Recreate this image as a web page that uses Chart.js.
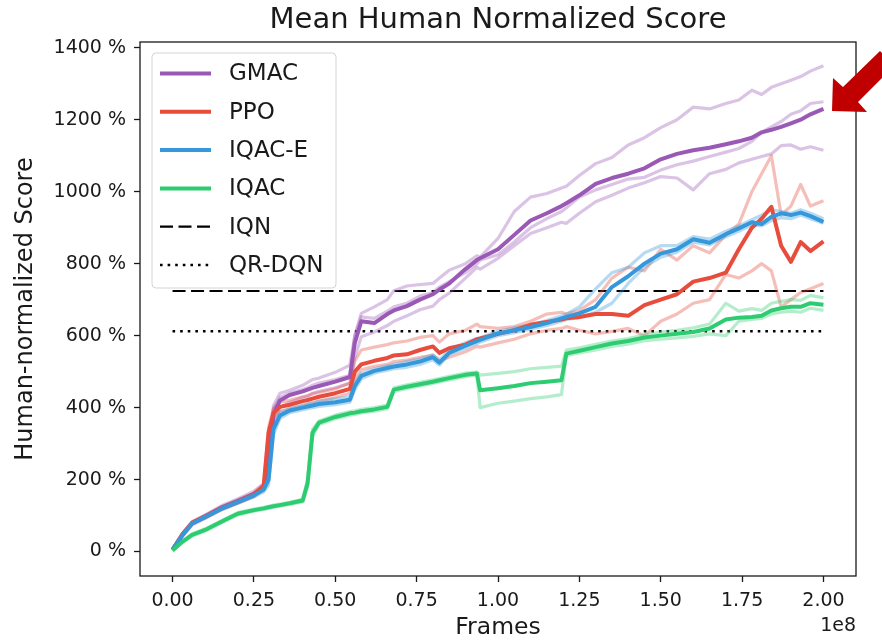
<!DOCTYPE html>
<html>
<head>
<meta charset="utf-8">
<script src="https://cdn.jsdelivr.net/npm/chart.js@4.4.0/dist/chart.umd.min.js"></script>
<style>
  html, body { margin:0; padding:0; background:#fff; }
  canvas { display:block; }
</style>
</head>
<body>
<canvas id="chart" width="882" height="642"></canvas>
<script>
// === DATA (frames in units of 1e8, scores in %) ===
const frames = [0,0.03,0.06,0.1,0.15,0.2,0.25,0.28,0.295,0.31, 0.33,0.36,0.4,0.415,0.43,0.45,0.5,0.545,0.56,0.58,
  0.62,0.66,0.68,0.72,0.76,0.8,0.82,0.85,0.9,0.935, 0.945,1.0,1.05,1.1,1.15,1.195,1.21,1.25,1.3,1.35,
  1.4,1.45,1.5,1.55,1.6,1.65,1.7,1.74,1.78,1.81, 1.84,1.87,1.9,1.93,1.96,2.0];

const gmacMean = [5,45,78,97,122,140,160,180,230,380, 420,435,445,450,455,460,472,485,580,640,
  635,660,670,682,700,715,728,745,785,810, 815,840,880,920,940,960,968,990,1022,1038,
  1050,1065,1090,1105,1115,1122,1132,1140,1150,1165, 1172,1180,1190,1200,1215,1230];
const gmacRunA = [5,48,82,102,127,146,168,188,260,405, 440,448,462,470,478,482,498,518,600,662,
  680,700,725,738,742,745,760,782,800,822, 818,870,945,985,995,1010,1015,1045,1078,1095,
  1130,1150,1178,1200,1235,1230,1245,1255,1282,1270, 1290,1300,1310,1320,1335,1350];
const gmacRunB = [5,42,74,92,117,135,153,172,210,360, 400,415,428,432,440,445,455,468,540,597,
  610,628,640,655,672,682,700,718,760,790, 785,815,850,884,900,915,912,940,972,990,
  1010,1025,1042,1038,1005,1050,1062,1080,1090,1098, 1105,1128,1130,1118,1125,1115];
const gmacRunC = [5,46,80,99,124,143,162,182,245,395, 428,440,450,455,462,468,478,490,600,652,
  648,668,680,690,710,720,735,750,775,800, 810,825,860,900,925,945,955,985,1005,1020,
  1035,1040,1060,1075,1085,1098,1110,1120,1140,1165, 1180,1195,1215,1225,1245,1250];

const ppoMean = [5,48,80,97,120,138,158,182,330,385, 402,408,418,421,425,430,440,452,500,520,
  530,538,545,548,560,570,552,565,575,590, 592,605,615,630,638,645,648,652,660,660,
  655,685,700,715,750,760,775,840,900,925, 958,850,805,860,835,862];
const ppoRunA = [5,50,83,100,124,142,163,188,345,398, 415,420,430,433,438,442,452,468,530,560,
  568,575,580,585,595,600,582,605,615,632, 625,620,625,640,660,665,660,670,700,760,
  790,780,840,810,850,830,880,910,1000,1050, 1100,935,960,1020,960,975];
const ppoRunB = [5,46,77,94,116,134,153,176,300,372, 390,396,406,410,413,418,428,440,480,505,
  515,520,528,532,540,545,530,540,555,570, 568,580,590,605,615,620,625,615,605,612,
  620,600,640,660,690,700,770,760,780,800, 780,680,700,720,730,745];

const iqaceMean = [5,45,78,96,119,137,156,172,200,340, 378,392,400,403,406,410,415,422,460,488,
  502,510,514,520,528,540,525,552,572,585, 588,606,615,624,635,648,652,662,680,735,
  765,800,828,840,868,858,882,898,915,910, 930,940,935,942,932,916];
const iqaceRunA = [5,47,80,99,122,140,160,178,215,352, 386,398,406,410,413,418,424,430,470,495,
  508,516,520,528,535,547,532,560,580,592, 594,612,622,630,642,655,660,680,730,775,
  790,830,850,850,875,868,890,905,922,935, 950,945,940,950,940,925];
const iqaceRunB = [5,43,76,93,116,134,152,166,185,325, 370,386,394,397,400,403,408,415,450,480,
  496,504,508,512,520,533,518,548,565,578, 582,600,608,618,628,640,645,650,665,690,
  745,790,818,832,860,852,875,890,908,905, 920,928,925,935,925,912];

const iqacMean = [3,27,46,60,83,105,115,120,123,126, 129,134,142,190,330,358,374,384,386,390,
  395,402,450,458,465,472,476,482,491,495, 448,454,460,468,472,476,550,558,568,578,
  585,595,600,605,610,620,645,650,652,655, 670,676,680,680,690,686];
const iqacRunA = [3,29,49,63,86,108,118,123,126,129, 132,137,146,200,340,363,379,389,391,395,
  400,407,455,463,470,477,481,487,496,499, 490,495,500,508,512,515,560,566,576,585,
  592,602,610,615,622,632,690,668,675,670, 690,695,700,698,712,705];
const iqacRunB = [3,25,43,57,80,102,112,117,120,123, 126,131,138,180,320,353,369,379,381,385,
  390,397,445,453,460,467,471,477,486,491, 400,412,418,425,430,436,545,552,560,570,
  576,586,590,594,598,605,600,640,645,648, 660,665,668,665,676,670];

const baselineFrames = [0, 2.0];
const iqnScore = 724;
const qrdqnScore = 612;

const methods = ['GMAC', 'PPO', 'IQAC-E', 'IQAC'];
const methodColors = ['#9b59b6', '#e74c3c', '#3498db', '#2ecc71'];
const xTicks = [0, 0.25, 0.5, 0.75, 1.0, 1.25, 1.5, 1.75, 2.0];
const yTicks = [0, 200, 400, 600, 800, 1000, 1200, 1400];

const FONT = '"DejaVu Sans", Verdana, sans-serif';
const INK = '#1a1a1a';

function rgba(hex, a) {
  const n = parseInt(hex.slice(1), 16);
  return `rgba(${n>>16},${(n>>8)&255},${n&255},${a})`;
}
function pts(xs, vals) { return xs.map((f, i) => ({x: f, y: vals[i]})); }
function meanLine(label, vals, color, order) {
  return {label, data: pts(frames, vals), borderColor: color, borderWidth: 4,
    pointRadius: 0, tension: 0, borderJoinStyle: 'round', order};
}
function runLine(label, vals, color, order) {
  return {label, data: pts(frames, vals), borderColor: rgba(color, .36), borderWidth: 3.2,
    pointRadius: 0, tension: 0, borderJoinStyle: 'round', order};
}
function flatLine(label, score, dash, width) {
  return {label, data: pts(baselineFrames, baselineFrames.map(() => score)), borderColor: '#000',
    borderWidth: width, borderDash: dash, borderCapStyle: 'butt', pointRadius: 0, order: 20};
}

const IQN_DASH = [13, 5.5], DQN_DASH = [2.6, 5];
const [cG, cP, cE, cQ] = methodColors;
const datasets = [
  flatLine('IQN', iqnScore, IQN_DASH, 2.2),
  flatLine('QR-DQN', qrdqnScore, DQN_DASH, 2.6),
  runLine('GMAC run', gmacRunA, cG, 18), runLine('GMAC run', gmacRunB, cG, 18), runLine('GMAC run', gmacRunC, cG, 18),
  runLine('PPO run', ppoRunA, cP, 17), runLine('PPO run', ppoRunB, cP, 17),
  runLine('IQAC-E run', iqaceRunA, cE, 16), runLine('IQAC-E run', iqaceRunB, cE, 16),
  runLine('IQAC run', iqacRunA, cQ, 15), runLine('IQAC run', iqacRunB, cQ, 15),
  meanLine(methods[0], gmacMean, cG, 4),
  meanLine(methods[1], ppoMean, cP, 3),
  meanLine(methods[2], iqaceMean, cE, 2),
  meanLine(methods[3], iqacMean, cQ, 1),
];

const legendItems = [
  ...methods.map((m, i) => ({label: m, color: methodColors[i], width: 4, dash: []})),
  {label: 'IQN', color: '#000', width: 2.2, dash: IQN_DASH},
  {label: 'QR-DQN', color: '#000', width: 2.6, dash: DQN_DASH},
];

// frame, legend box, offset text and the red arrow
const overlay = {
  id: 'overlay',
  afterDraw(chart) {
    const {ctx, chartArea: a} = chart;
    ctx.save();
    ctx.strokeStyle = INK; ctx.lineWidth = 1.3;
    ctx.strokeRect(a.left, a.top, a.right - a.left, a.bottom - a.top);

    ctx.beginPath();
    ctx.roundRect(a.left + 12, a.top + 11, 184, 235, 4);
    ctx.fillStyle = 'rgba(255,255,255,0.8)'; ctx.fill();
    ctx.strokeStyle = '#d4d4d4'; ctx.lineWidth = 1; ctx.stroke();
    ctx.font = `23px ${FONT}`; ctx.textBaseline = 'middle';
    legendItems.forEach((it, i) => {
      const y = a.top + 31.5 + i * 38.3;
      ctx.beginPath(); ctx.moveTo(a.left + 20, y); ctx.lineTo(a.left + 71, y);
      ctx.strokeStyle = it.color; ctx.lineWidth = it.width; ctx.setLineDash(it.dash);
      ctx.lineCap = 'butt'; ctx.stroke(); ctx.setLineDash([]);
      ctx.fillStyle = INK; ctx.fillText(it.label, a.left + 89, y + 1);
    });

    ctx.font = `19px ${FONT}`; ctx.textAlign = 'right'; ctx.fillStyle = INK;
    ctx.fillText('1e8', a.right, 626);

    ctx.beginPath();
    [[832,111],[833,78],[843,87],[880,51],[884,55],[884,76],[858,102],[867,112]]
      .forEach(([x, y], i) => i ? ctx.lineTo(x, y) : ctx.moveTo(x, y));
    ctx.closePath(); ctx.fillStyle = '#c00000'; ctx.fill();
    ctx.restore();
  }
};

const tickGrid = {drawOnChartArea: false, drawTicks: true, tickLength: 6, tickColor: INK, tickWidth: 1.3};

new Chart(document.getElementById('chart'), {
  type: 'line',
  data: {datasets},
  options: {
    responsive: false, animation: false, devicePixelRatio: 1,
    layout: {padding: {top: 0, right: 26, left: 0, bottom: 0}},
    plugins: {
      legend: {display: false}, tooltip: {enabled: false},
      title: {display: true, fullSize: false, text: 'Mean Human Normalized Score', color: INK,
        font: {family: FONT, size: 29, weight: 'normal'}, padding: {top: 3, bottom: 4.2}}
    },
    scales: {
      x: {type: 'linear', min: -0.1, max: 2.1,
        afterBuildTicks: s => { s.ticks = xTicks.map(v => ({value: v})); },
        afterFit: s => { s.height = 66; },
        ticks: {callback: v => v.toFixed(2), color: INK, font: {family: FONT, size: 19},
          padding: 8, maxRotation: 0, autoSkip: false},
        grid: tickGrid, border: {display: false},
        title: {display: true, text: 'Frames', color: INK, font: {family: FONT, size: 23.5},
          padding: {top: 0, bottom: 0}}},
      y: {type: 'linear', min: -68, max: 1416,
        afterBuildTicks: s => { s.ticks = yTicks.map(v => ({value: v})); },
        afterFit: s => { s.width = 140; },
        ticks: {callback: v => `${v} %`, color: INK, font: {family: FONT, size: 19}, padding: 8},
        grid: tickGrid, border: {display: false},
        title: {display: true, text: 'Human-normalized Score', color: INK, font: {family: FONT, size: 24},
          padding: {top: 11, bottom: 0}}}
    }
  },
  plugins: [overlay]
});
</script>
</body>
</html>
